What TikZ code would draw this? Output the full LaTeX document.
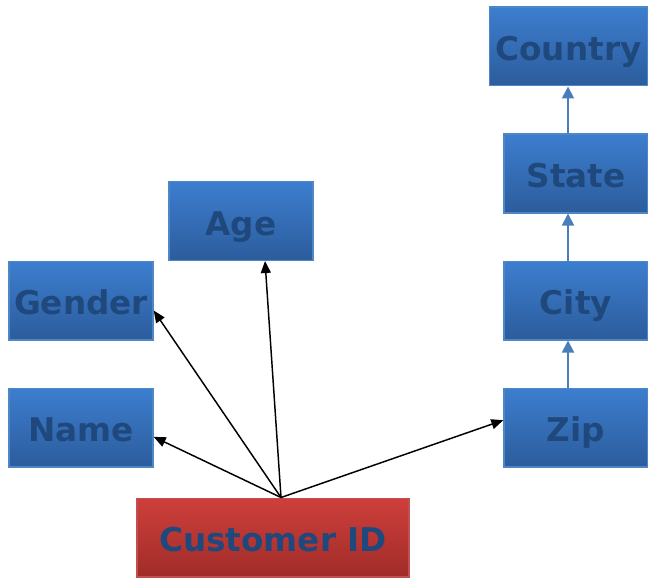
\documentclass[tikz,border=0pt]{standalone}
\usepackage{fontspec}
\setmainfont{DejaVu Sans}
\usepackage{xcolor}
\usepackage{tikz}
\usetikzlibrary{arrows.meta, positioning}

\definecolor{boxtop}{HTML}{3C7ECF}
\definecolor{boxbot}{HTML}{2C5C9C}
\definecolor{boxline}{HTML}{4F86C6}
\definecolor{keytop}{HTML}{CE3F3B}
\definecolor{keybot}{HTML}{A02C29}
\definecolor{keyline}{HTML}{C0504D}
\definecolor{labeltext}{HTML}{1F497D}
\definecolor{chainline}{HTML}{4A7EBB}

\tikzset{
    attr/.style={draw=boxline, line width=1pt, top color=boxtop, bottom color=boxbot,
        minimum width=108pt, minimum height=59pt, inner sep=0pt,
        text height=21pt, text depth=0pt,
        text=labeltext, font=\fontsize{24.5}{28}\selectfont\bfseries},
    keybox/.style={attr, draw=keyline, top color=keytop, bottom color=keybot,
        minimum width=204pt},
    dep/.style={line width=1.1pt, -{Triangle[length=9pt, width=7.5pt]}},
    chain/.style={line width=1.4pt, draw=chainline, -{Triangle[length=9pt, width=9pt, fill=chainline]}}
}

\begin{document}
\begin{tikzpicture}[x=0.75pt, y=-0.75pt]
    \useasboundingbox (0,0) rectangle (648,577);

    % attributes of the customer
    \node[attr] (age) at (241,221) {Age};
    \node[attr] (gender) at (81,300.5) {Gender};
    \node[attr] (name) at (81,427.5) {Name};

    % address chain
    \node[attr, minimum width=119pt] (country) at (568.5,46.5) {Country};
    \node[attr] (state) at (576,173.5) {State};
    \node[attr] (city) at (576,300.5) {City};
    \node[attr] (zip) at (576,427.5) {Zip};

    % key
    \node[keybox] (cid) at (273,537.5) {Customer ID};
    \coordinate (hub) at ([xshift=6pt]cid.north);

    % dependencies
    \draw[dep] (hub) -- ([yshift=-7pt]name.east);
    \draw[dep] (hub) -- ([yshift=-7.5pt]gender.east);
    \draw[dep] (hub) -- ([xshift=18pt]age.south);
    \draw[dep] (hub) -- ([yshift=5.5pt]zip.west);

    \draw[chain] ([xshift=-6pt]zip.north) -- ([xshift=-6pt]city.south);
    \draw[chain] ([xshift=-6pt]city.north) -- ([xshift=-6pt]state.south);
    \draw[chain] ([xshift=-6pt]state.north) -- ([xshift=-0.375pt]country.south);
\end{tikzpicture}
\end{document}
